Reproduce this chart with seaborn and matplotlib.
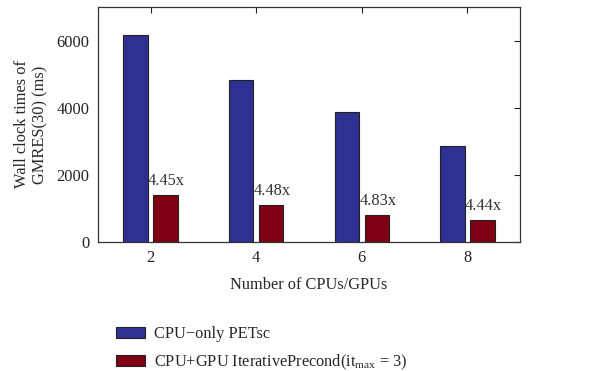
import matplotlib
matplotlib.use("Agg")
import matplotlib.pyplot as plt
import seaborn as sns
import pandas as pd
from matplotlib.patches import Patch

# Data
procs = ["2", "4", "6", "8"]
cpu_only = [6180, 4840, 3860, 2860]
cpu_gpu = [1390, 1080, 800, 645]
speedups = ["4.45x", "4.48x", "4.83x", "4.44x"]
series = ["CPU\u2212only PETsc", "CPU+GPU IterativePrecond(it$_{\\mathrm{max}}$ = 3)"]
colors = ["#2E3192", "#7F0013"]

df = pd.DataFrame({
    "procs": procs * 2,
    "time": cpu_only + cpu_gpu,
    "series": [series[0]] * 4 + [series[1]] * 4,
})

sns.set_theme(style="white")
plt.rcParams["font.family"] = ["Liberation Serif", "DejaVu Serif"]
plt.rcParams["mathtext.fontset"] = "custom"
plt.rcParams["mathtext.rm"] = "Liberation Serif"
plt.rcParams["mathtext.it"] = "Liberation Serif:italic"

FS = 11.8

fig = plt.figure(figsize=(6.15, 3.71), dpi=100)
ax = fig.add_axes([0.159, 0.349, 0.687, 0.631])

sns.barplot(data=df, x="procs", y="time", hue="series", order=procs,
            hue_order=series, palette=colors, width=0.567, gap=0.187,
            edgecolor="#222222", linewidth=0.8, saturation=1, ax=ax,
            legend=False)

# speedup annotations above the accelerated bars
gpu_bars = ax.containers[1]
for bar, lab in zip(gpu_bars, speedups):
    ax.text(bar.get_x() - 0.05, bar.get_height() + 180, lab,
            ha="left", va="bottom", fontsize=FS, color="#333333")

ax.set_xlim(-0.5, 3.5)
ax.set_ylim(0, 7000)
ax.set_yticks([0, 2000, 4000, 6000])
ax.set_xlabel("Number of CPUs/GPUs", fontsize=FS, labelpad=8)
ax.set_ylabel("Wall clock times of\nGMRES(30) (ms)", fontsize=FS, labelpad=6)
ax.tick_params(axis="both", which="both", direction="in", length=4,
               width=0.8, top=True, right=True, labelsize=FS,
               colors="#222222", pad=6)
for s in ax.spines.values():
    s.set_color("#333333")
    s.set_linewidth(0.9)

handles = [Patch(facecolor=c, edgecolor="#222222", linewidth=0.8) for c in colors]
fig.legend(handles, series, loc="upper left", bbox_to_anchor=(0.175, 0.143),
           frameon=False, fontsize=FS, handlelength=1.75, handleheight=0.7,
           handletextpad=0.55, labelspacing=0.65, borderpad=0.0)

fig.savefig("out.png", dpi=100)
